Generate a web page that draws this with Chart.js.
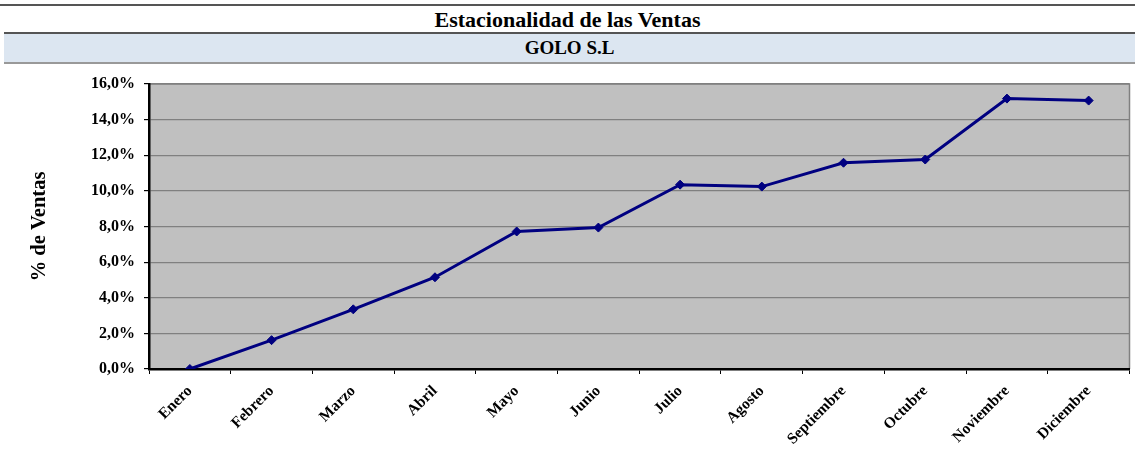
<!DOCTYPE html>
<html>
<head>
<meta charset="utf-8">
<script src="https://cdn.jsdelivr.net/npm/chart.js@4"></script>
<style>
  html, body { margin: 0; padding: 0; background: #fff; }
  body { width: 1135px; height: 461px; position: relative; overflow: hidden; font-family: "Liberation Serif", "Times New Roman", serif; }
  #linea-top { position: absolute; left: 0; top: 4px; width: 1135px; height: 2px; background: #555; }
  #titulo { position: absolute; left: 0; top: 8px; width: 1135px; text-align: center; font-size: 22px; font-weight: bold; line-height: 24px; }
  #banda { position: absolute; left: 4px; top: 32px; width: 1131px; height: 28px; background: #dce6f1; border-top: 2px solid #555; border-bottom: 2px solid #999; text-align: center; font-size: 19px; font-weight: bold; line-height: 28px; }
  #wrap { position: absolute; left: 0; top: 64px; width: 1135px; height: 397px; }
</style>
</head>
<body>
<div id="linea-top"></div>
<div id="titulo">Estacionalidad de las Ventas</div>
<div id="banda">GOLO S.L</div>
<div id="wrap"><canvas id="chart-estacionalidad"></canvas></div>
<script>
const MESES = ['Enero', 'Febrero', 'Marzo', 'Abril', 'Mayo', 'Junio', 'Julio', 'Agosto', 'Septiembre', 'Octubre', 'Noviembre', 'Diciembre'];
const PCT_VENTAS = [0.0, 1.62, 3.35, 5.15, 7.72, 7.94, 10.35, 10.24, 11.58, 11.76, 15.18, 15.07];
const Y_TICKS = [0, 2, 4, 6, 8, 10, 12, 14, 16];

const CORES = {
    linea: '#000080',
    fondo: '#c0c0c0',
    grid: '#808080',
    eixo: '#000'
};

// fondo gris y bordes del area de trazado
const fondoPlot = {
    id: 'fondoPlot',
    beforeDraw(chart) {
        const { ctx, chartArea: a } = chart;
        ctx.save();
        ctx.fillStyle = CORES.fondo;
        ctx.fillRect(a.left, a.top, a.right - a.left, a.bottom - a.top);
        ctx.strokeStyle = CORES.grid;
        ctx.lineWidth = 1.5;
        ctx.beginPath();
        ctx.moveTo(a.left, a.top);
        ctx.lineTo(a.right, a.top);
        ctx.lineTo(a.right, a.bottom);
        ctx.stroke();
        ctx.restore();
    }
};

const fuente = (size) => ({ family: '"Liberation Serif", "Times New Roman", serif', size: size, weight: 'bold' });

new Chart(document.getElementById('chart-estacionalidad'), {
    type: 'line',
    data: {
        labels: MESES,
        datasets: [{
            data: PCT_VENTAS,
            borderColor: CORES.linea,
            backgroundColor: CORES.linea,
            borderWidth: 3,
            pointStyle: 'rectRot',
            pointRadius: 4.5,
            pointBorderWidth: 1,
            tension: 0
        }]
    },
    options: {
        responsive: true,
        maintainAspectRatio: false,
        animation: false,
        layout: { padding: { top: 20, right: 2, left: 0, bottom: 0 } },
        plugins: { legend: { display: false }, tooltip: { enabled: false } },
        scales: {
            x: {
                offset: true,
                grid: { drawOnChartArea: false, drawTicks: true, tickLength: 5, tickColor: CORES.eixo, offset: true },
                border: { color: CORES.eixo, width: 2.5 },
                ticks: { color: '#000', font: fuente(15.5), maxRotation: 45, minRotation: 45, padding: 8 },
                afterFit: (s) => { s.height = 92; }
            },
            y: {
                min: 0,
                max: 16,
                afterBuildTicks: (s) => { s.ticks = Y_TICKS.map(v => ({ value: v })); },
                grid: { color: CORES.grid, lineWidth: 1.2, tickLength: 5, tickColor: CORES.eixo },
                border: { color: CORES.eixo, width: 2.5 },
                ticks: { color: '#000', font: fuente(16), padding: 9, callback: (v) => v.toFixed(1).replace('.', ',') + '%' },
                title: { display: true, text: '% de Ventas', color: '#000', font: fuente(20.5), padding: { top: 27, bottom: 0 } },
                afterFit: (s) => { s.width = 149; }
            }
        }
    },
    plugins: [fondoPlot]
});
</script>
</body>
</html>
